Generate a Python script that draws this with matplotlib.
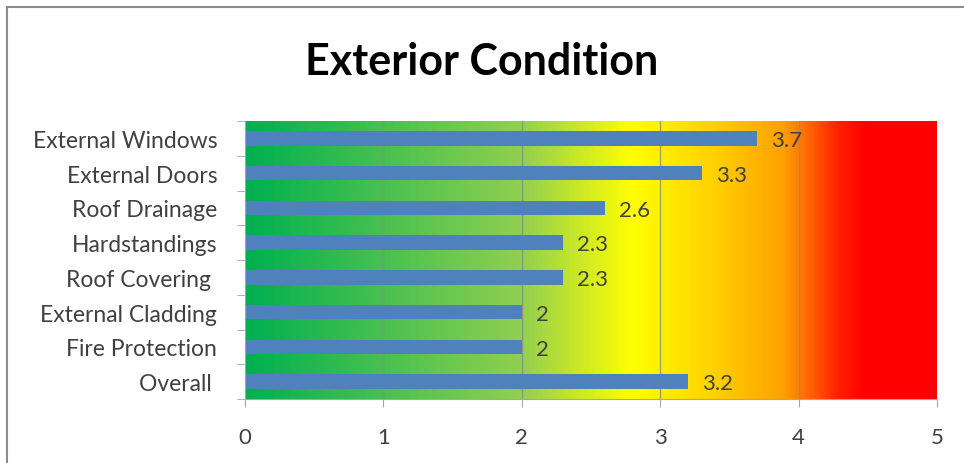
import numpy as np
import matplotlib.pyplot as plt
from matplotlib.colors import LinearSegmentedColormap
from matplotlib.lines import Line2D

plt.rcParams['font.family'] = ['Lato', 'DejaVu Sans']

# Condition scores (top to bottom as shown)
categories = ['External Windows', 'External Doors', 'Roof Drainage', 'Hardstandings',
              'Roof Covering ', 'External Cladding', 'Fire Protection', 'Overall ']
scores = [3.7, 3.3, 2.6, 2.3, 2.3, 2.0, 2.0, 3.2]
score_labels = ['3.7', '3.3', '2.6', '2.3', '2.3', '2', '2', '3.2']
x_ticks = [0, 1, 2, 3, 4, 5]

text_col = '#404040'
bar_col = '#4F81BD'
axis_col = '#A6A6A6'

fig = plt.figure(figsize=(9.64, 4.64), dpi=100)
ax = fig.add_axes([245 / 964, 1 - 400 / 464, (937 - 245) / 964, (400 - 122) / 464])

# green -> yellow -> orange -> red background band
cmap = LinearSegmentedColormap.from_list('cond', [
    (0.00, '#00B050'),
    (0.40, '#92D050'),
    (0.56, '#FFFF00'),
    (0.68, '#FFD000'),
    (0.78, '#FFA000'),
    (0.86, '#FF2000'),
    (0.90, '#FF0000'),
    (1.00, '#FF0000'),
])
n = len(categories)
grad = np.linspace(0, 1, 500).reshape(1, -1)
ax.imshow(grad, cmap=cmap, aspect='auto', extent=[0, 5, n - 0.5, -0.5],
          zorder=0, interpolation='bilinear')

for x in x_ticks[1:-1]:
    ax.axvline(x, color='#8C8C8C', lw=1.0, alpha=0.8, zorder=1)

y = np.arange(n)
ax.barh(y, scores, height=0.42, color=bar_col, zorder=2)

for yi, v, lab in zip(y, scores, score_labels):
    ax.text(v + 0.1, yi + 0.05, lab, va='center', ha='left', fontsize=16, color=text_col, zorder=3)

ax.set_xlim(0, 5)
ax.set_ylim(n - 0.5, -0.5)
ax.set_xticks(x_ticks)
ax.set_xticklabels([str(t) for t in x_ticks], fontsize=16, color=text_col)
ax.set_yticks(y)
ax.set_yticklabels(categories, fontsize=16.5, color=text_col)
ax.tick_params(axis='y', length=0, pad=20)
ax.tick_params(axis='x', length=6, color=axis_col, pad=14)

# Excel-style ticks between categories
ax.set_yticks(np.arange(-0.5, n, 1), minor=True)
ax.tick_params(axis='y', which='minor', length=6, color=axis_col)

for s in ['top', 'right']:
    ax.spines[s].set_visible(False)
for s in ['left', 'bottom']:
    ax.spines[s].set_color(axis_col)

fig.text(0.5, 1 - 62 / 464, 'Exterior Condition', ha='center', va='center',
         fontsize=31, fontweight='bold', color='black')

# outer chart frame
fig.add_artist(Line2D([7 / 964, 1], [1 - 8 / 464, 1 - 8 / 464], transform=fig.transFigure,
                      color='#8C8C8C', lw=1.5))
fig.add_artist(Line2D([7 / 964, 7 / 964], [0, 1 - 8 / 464], transform=fig.transFigure,
                      color='#8C8C8C', lw=1.5))

fig.savefig('out.png', dpi=100)
